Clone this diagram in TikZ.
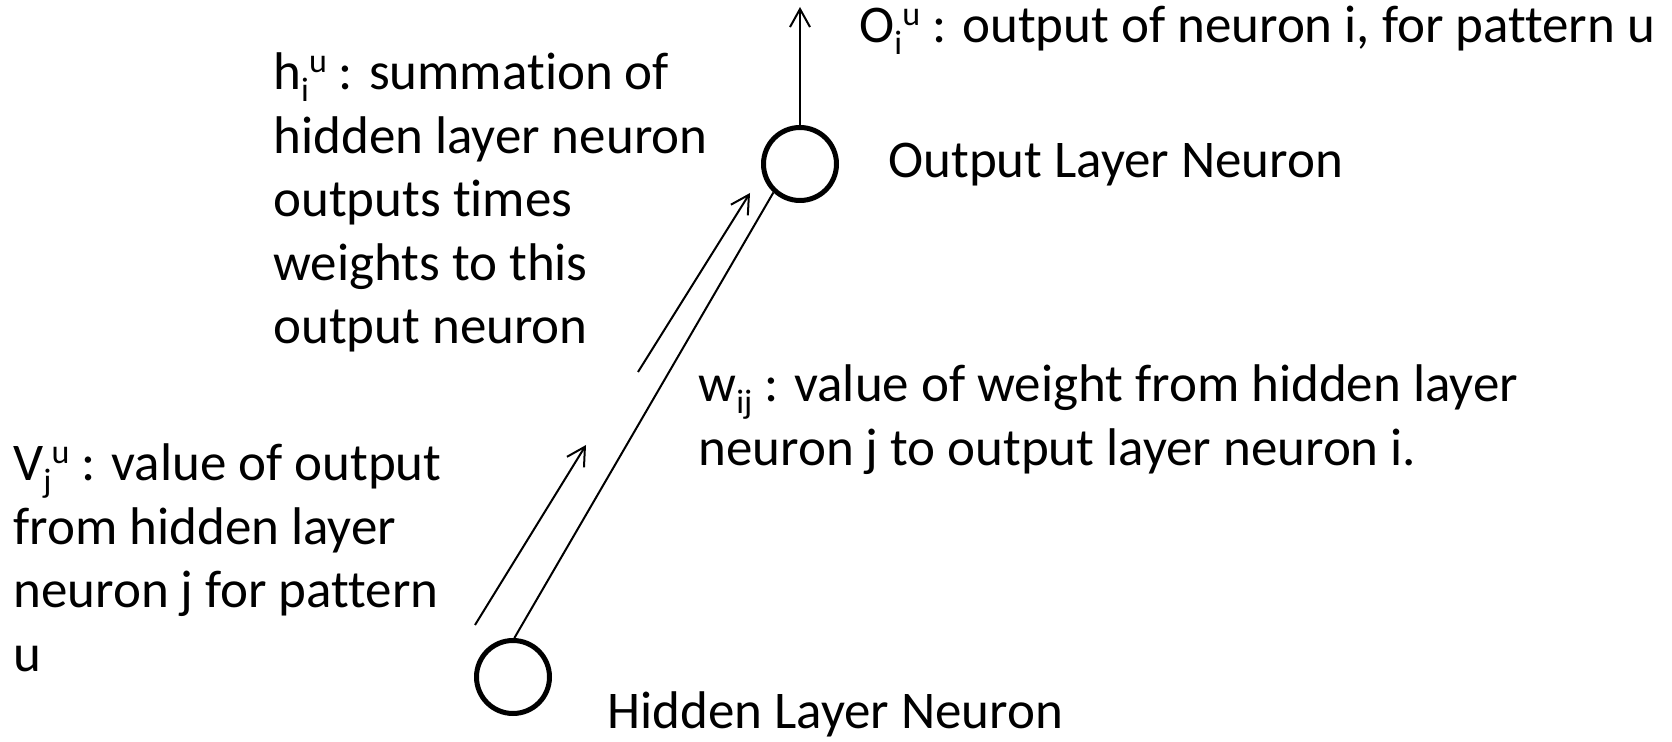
\documentclass[tikz,border=0pt]{standalone}
\usepackage{fontspec}
\setmainfont{Carlito}[RawFeature={-liga,-clig,-calt,-dlig}]
\usetikzlibrary{arrows.meta}
\newcommand\supx[1]{\raisebox{8.5pt}{\fontsize{17pt}{17pt}\selectfont #1}}
\newcommand\subx[1]{\raisebox{-6pt}{\fontsize{17pt}{17pt}\selectfont #1}}
\newcommand\lines[1]{\begin{tabular}[t]{@{}l@{}}#1\end{tabular}}
\begin{document}
\begin{tikzpicture}[x=0.5pt,y=-0.5pt,
  neuron/.style={circle,draw,line width=2.5pt,minimum size=36.5pt,inner sep=0pt},
  conn/.style={line width=1pt},
  arr/.style={line width=1pt,-{Straight Barb[length=9pt,width=10pt]}},
  lbl/.style={anchor=base west,inner sep=0pt,font=\fontsize{26.5pt}{31.75pt}\selectfont}]
\useasboundingbox (0,0) rectangle (1672,742);
\node[neuron] (out) at (800,164) {};
\node[neuron] (hid) at (513,677) {};
\coordinate (top) at (800,7);
\coordinate (a1s) at (638,372);
\coordinate (a1e) at (750,193);
\coordinate (a2s) at (475,625);
\coordinate (a2e) at (586,445);
\draw[arr] (out.north) -- (top);
\draw[conn] (hid.88) -- (out.227);
\draw[arr] (a1s) -- (a1e);
\draw[arr] (a2s) -- (a2e);
\node[lbl] (olab) at (859,43) {O\subx{i}\supx{u} : output of neuron i, for pattern u};
\node[lbl] (outlab) at (888,178) {Output Layer Neuron};
\node[lbl] (hidlab) at (607,729) {Hidden Layer Neuron};
\node[lbl] (hsum) at (273,90) {\lines{h\subx{i}\supx{u} : summation of\\hidden layer neuron\\outputs times\\weights to this\\output neuron}};
\node[lbl] (vout) at (13,481) {\lines{V\subx{j}\supx{u} : value of output\\from hidden layer\\neuron j for pattern\\u}};
\node[lbl] (wlab) at (698,402) {\lines{w\subx{ij} : value of weight from hidden layer\\neuron j to output layer neuron i.}};
\end{tikzpicture}
\end{document}
